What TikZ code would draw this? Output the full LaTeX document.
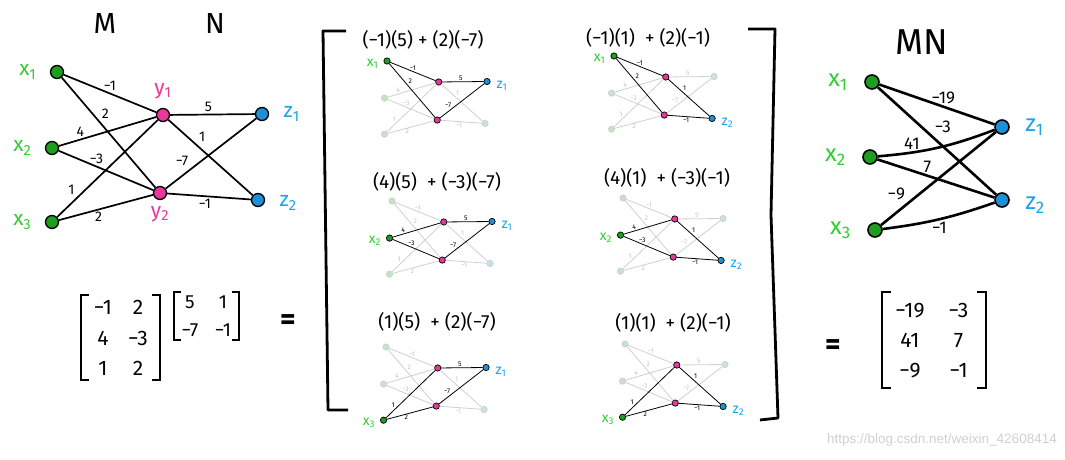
\documentclass[tikz,border=0pt]{standalone}
\usepackage{fontspec}
\setmainfont{Fira Sans}
\newfontfamily\wmfont{Liberation Sans}
\usepackage{tikz}
\usetikzlibrary{positioning,matrix}
\definecolor{xg}{HTML}{1E9E1E}
\definecolor{xgl}{HTML}{33CC33}
\definecolor{yp}{HTML}{E8389A}
\definecolor{zb}{HTML}{1E90D6}
\definecolor{zbl}{HTML}{1AA3E8}
\definecolor{fadeline}{HTML}{CFCFCF}
\definecolor{fadetext}{HTML}{C4C4C4}
\definecolor{fadexg}{HTML}{C6E3C6}
\definecolor{fadezb}{HTML}{C9DFEA}
\definecolor{wmark}{HTML}{D0D0D0}
\tikzset{
  dot/.style={circle, draw=black, line width=1.3pt, minimum size=13pt, inner sep=0pt},
  xdot/.style={dot, fill=xg},
  ydot/.style={dot, fill=yp},
  zdot/.style={dot, fill=zb},
  rdot/.style={minimum size=14pt, line width=1.6pt},
  wire/.style={line width=1.7pt},
  rwire/.style={line width=2.6pt},
  wlab/.style={font=\fontsize{14}{14}\selectfont, inner sep=2pt},
  rlab/.style={font=\fontsize{17}{17}\selectfont, inner sep=2pt},
  xlab/.style={font=\fontsize{21}{21}\selectfont, text=xgl},
  ylab/.style={font=\fontsize{21}{21}\selectfont, text=yp},
  zlab/.style={font=\fontsize{21}{21}\selectfont, text=zbl},
  minix/.style={font=\fontsize{14}{14}\selectfont, text=xgl, inner sep=1pt},
  miniz/.style={font=\fontsize{14}{14}\selectfont, text=zbl, inner sep=1pt},
  hdr/.style={font=\fontsize{29}{29}\selectfont},
  sumtext/.style={font=\fontsize{19}{19}\selectfont},
  eqsign/.style={font=\fontsize{30}{30}\selectfont\bfseries},
  mat/.style={matrix of nodes, nodes={font=\fontsize{21}{21}\selectfont, text height=15pt, text depth=0pt, inner sep=0pt, minimum width=26pt}},
  brk/.style={line width=1.8pt},
  bigbrk/.style={line width=2.8pt, line join=round},
}
% edges of one net, #2 / #3 = x / z in use (0 = all)
\newcommand{\wires}[3]{%
  \foreach \pass in {0,1}{%
    \foreach \i/\j/\w/\p/\a in {1/1/−1/.5/south, 1/2/2/.4/south west, 2/1/4/.22/south, 2/2/−3/.4/south, 3/1/1/.2/south east, 3/2/2/.42/north}{%
      \pgfmathtruncatemacro\on{or(#2==0,\i==#2)}%
      \ifnum\on=\pass
        \ifnum\on=1 \def\ink{black}\def\inkt{black}\else\def\ink{fadeline}\def\inkt{fadetext}\fi
        \draw[wire, draw=\ink] (#1x\i) -- node[wlab, text=\inkt, pos=\p, anchor=\a] (#1wx\i\j) {\w} (#1y\j);
      \fi}%
    \foreach \j/\k/\w/\p/\a in {1/1/5/.45/south, 1/2/1/.33/south west, 2/1/−7/.28/south east, 2/2/−1/.45/north}{%
      \pgfmathtruncatemacro\on{or(#3==0,\k==#3)}%
      \ifnum\on=\pass
        \ifnum\on=1 \def\ink{black}\def\inkt{black}\else\def\ink{fadeline}\def\inkt{fadetext}\fi
        \draw[wire, draw=\ink] (#1y\j) -- node[wlab, text=\inkt, pos=\p, anchor=\a] (#1wz\j\k) {\w} (#1z\k);
      \fi}}}
% small net: name, origin, x used, z used, sum place, sum
\newcommand{\mininet}[6]{%
  \begin{scope}[shift={#2}, scale=0.488, transform shape, dot/.append style={line width=0.7pt}, wire/.append style={line width=0.8pt}]
    \foreach \i/\pt in {1/{(0,0)}, 2/{(-5,76)}, 3/{(-5,150)}}{%
      \ifnum\i=#3 \node[xdot] (#1x\i) at \pt {};\else\node[xdot, fill=fadexg, draw=fadeline] (#1x\i) at \pt {};\fi}
    \node[ydot] (#1y1) at (106,43) {};
    \node[ydot] (#1y2) at (103,121) {};
    \foreach \k/\pt in {1/{(205,42)}, 2/{(201,128)}}{%
      \ifnum\k=#4 \node[zdot] (#1z\k) at \pt {};\else\node[zdot, fill=fadezb, draw=fadeline] (#1z\k) at \pt {};\fi}
    \wires{#1}{#3}{#4}
  \end{scope}
  \node[sumtext] (#1s) at #5 {#6};
  \node[minix, left=4pt of #1x#3, yshift=-3pt] (#1xl) {x\textsubscript{#3}};
  \node[miniz, right=5pt of #1z#4, yshift=-4pt] (#1zl) {z\textsubscript{#4}};
}
\newcommand{\brackets}[2]{%
  \draw[brk] ([xshift=#2]#1.north west) -- (#1.north west) -- (#1.south west) -- ([xshift=#2]#1.south west);
  \draw[brk] ([xshift=-#2]#1.north east) -- (#1.north east) -- (#1.south east) -- ([xshift=-#2]#1.south east);}

\begin{document}
\begin{tikzpicture}[x=1pt,y=-1pt]
  \useasboundingbox (0,0) rectangle (1065,460);

  % M and N as one net
  \node[hdr] (hm) at (105,24) {M};
  \node[hdr] (hn) at (215,24) {N};
  \node[xdot] (x1) at (57,72) {};
  \node[xdot] (x2) at (52,148) {};
  \node[xdot] (x3) at (52,222) {};
  \node[ydot] (y1) at (163,115) {};
  \node[ydot] (y2) at (160,193) {};
  \node[zdot] (z1) at (262,114) {};
  \node[zdot] (z2) at (258,200) {};
  \wires{}{0}{0}
  \foreach \i in {1,2,3} \node[xlab, left=10pt of x\i] (x\i l) {x\textsubscript{\i}};
  \node[ylab, above=5pt of y1] (y1l) {y\textsubscript{1}};
  \node[ylab, below=3pt of y2] (y2l) {y\textsubscript{2}};
  \node[zlab, right=11pt of z1] (z1l) {z\textsubscript{1}};
  \node[zlab, right=11pt of z2, yshift=-3pt] (z2l) {z\textsubscript{2}};

  % M N =
  \matrix (mm) [mat, column sep=9pt, row sep=15.5pt, inner xsep=9pt, inner ysep=4pt] at (120.5,337.5) {
    −1 & 2 \\
    4 & −3 \\
    1 & 2 \\};
  \brackets{mm}{8pt}
  \matrix (nm) [mat, nodes={font=\fontsize{19}{19}\selectfont, text height=13pt, minimum width=22pt}, column sep=11pt, row sep=15pt, inner xsep=5pt, inner ysep=3pt] at (206.5,316) {
    5 & 1 \\
    −7 & −1 \\};
  \brackets{nm}{7pt}
  \node[eqsign] (eq1) at (288,322) {=};

  % sums, one net per entry
  \draw[bigbrk] (346,31) -- (323,31) -- (328,410) -- (348,410);
  \draw[bigbrk] (748,29) -- (775,29) -- (771,215) -- (778,418) -- (760,420);
  \mininet{p1}{(387,61)}{1}{1}{(423,40)}{(−1)(5) + (2)(−7)}
  \mininet{p2}{(614,56)}{1}{2}{(648,38)}{(−1)(1) \ + (2)(−1)}
  \mininet{p3}{(392,201)}{2}{1}{(437,182)}{(4)(5) \ + (−3)(−7)}
  \mininet{p4}{(623,198)}{2}{2}{(667,178)}{(4)(1) \ + (−3)(−1)}
  \mininet{p5}{(386,347)}{3}{1}{(437,322)}{(1)(5) \ + (2)(−7)}
  \mininet{p6}{(625,344)}{3}{2}{(673,323)}{(1)(1) \ + (2)(−1)}

  % MN
  \node[hdr, font=\fontsize{36}{36}\selectfont] (hmn) at (922,42) {MN};
  \node[xdot, rdot] (rx1) at (872,82) {};
  \node[xdot, rdot] (rx2) at (870,157) {};
  \node[xdot, rdot] (rx3) at (875,230) {};
  \node[zdot, rdot] (rz1) at (1002,127) {};
  \node[zdot, rdot] (rz2) at (1002,200) {};
  \foreach \i/\k/\w/\p/\a/\b in {1/1/−19/.56/south/0, 1/2/−3/.45/south west/0, 2/1/41/.27/south/8, 2/2/7/.42/south/0, 3/1/−9/.22/south east/0, 3/2/−1/.5/north/6}
    \draw[rwire] (rx\i) to[bend right=\b] node[rlab, pos=\p, anchor=\a] (rw\i\k) {\w} (rz\k);
  \foreach \i in {1,2,3} \node[xlab, font=\fontsize{24}{24}\selectfont, left=13pt of rx\i] (rx\i l) {x\textsubscript{\i}};
  \node[zlab, font=\fontsize{24}{24}\selectfont, right=12pt of rz1] (rz1l) {z\textsubscript{1}};
  \node[zlab, font=\fontsize{24}{24}\selectfont, right=12pt of rz2, yshift=-5pt] (rz2l) {z\textsubscript{2}};

  \node[eqsign] (eq2) at (833,347) {=};
  \matrix (mnm) [mat, nodes={minimum width=28pt}, column sep=20pt, row sep=15pt, inner xsep=13pt, inner ysep=10pt] at (934,340) {
    −19 & −3 \\
    41 & 7 \\
    −9 & −1 \\};
  \brackets{mnm}{9pt}

  \node[font=\wmfont\fontsize{13.5}{14}\selectfont, text=wmark, anchor=east, inner sep=0pt] (wm) at (1057,440) {https://blog.csdn.net/weixin\_42608414};
\end{tikzpicture}
\end{document}
